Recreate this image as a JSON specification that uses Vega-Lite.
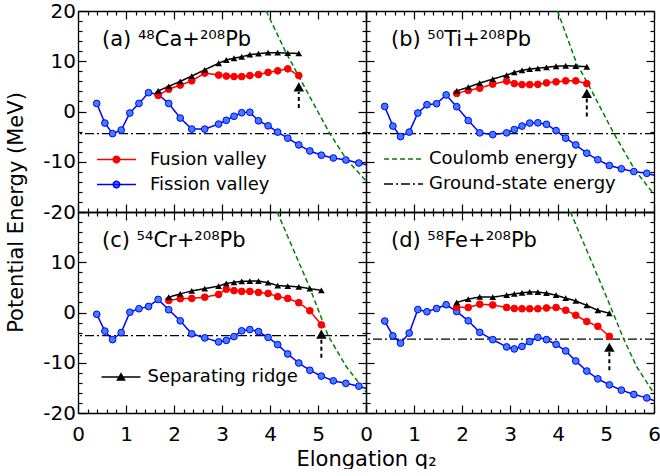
{
"$schema":"https://vega.github.io/schema/vega-lite/v6.json",
"background":"white",
"padding":{"left":5,"top":1,"right":0,"bottom":0},
"datasets":{
"gs":[{"p":"a","s":"Ground-state energy","E":-4.4},{"p":"b","s":"Ground-state energy","E":-4.4},{"p":"c","s":"Ground-state energy","E":-4.6},{"p":"d","s":"Ground-state energy","E":-5.3}],
"arrows":[{"p":"a","q":4.6,"y1":0.7,"y2":3.9,"yh":4.9},{"p":"b","q":4.6,"y1":-1.0,"y2":2.6,"yh":3.6},{"p":"c","q":5.07,"y1":-9.0,"y2":-5.2,"yh":-4.3},{"p":"d","q":5.07,"y1":-11.5,"y2":-7.8,"yh":-6.9}],
"labels":[{"p":"a","label":"(a) ⁴⁸Ca+²⁰⁸Pb"},{"p":"b","label":"(b) ⁵⁰Ti+²⁰⁸Pb"},{"p":"c","label":"(c) ⁵⁴Cr+²⁰⁸Pb"},{"p":"d","label":"(d) ⁵⁸Fe+²⁰⁸Pb"}],
"curves":[
{"p":"a","s":"Fission valley","q":0.39,"E":1.6},{"p":"a","s":"Fission valley","q":0.56,"E":-2.3},{"p":"a","s":"Fission valley","q":0.72,"E":-4.4},{"p":"a","s":"Fission valley","q":0.9,"E":-3.7},{"p":"a","s":"Fission valley","q":1.08,"E":-0.3},{"p":"a","s":"Fission valley","q":1.27,"E":1.6},{"p":"a","s":"Fission valley","q":1.47,"E":3.75},{"p":"a","s":"Fission valley","q":1.67,"E":3.4},{"p":"a","s":"Fission valley","q":1.89,"E":1.6},{"p":"a","s":"Fission valley","q":2.13,"E":-1.3},{"p":"a","s":"Fission valley","q":2.37,"E":-3.5},{"p":"a","s":"Fission valley","q":2.64,"E":-3.5},{"p":"a","s":"Fission valley","q":2.93,"E":-2.5},{"p":"a","s":"Fission valley","q":3.09,"E":-1.75},{"p":"a","s":"Fission valley","q":3.25,"E":-0.95},{"p":"a","s":"Fission valley","q":3.41,"E":-0.25},{"p":"a","s":"Fission valley","q":3.58,"E":-0.15},{"p":"a","s":"Fission valley","q":3.76,"E":-1.85},{"p":"a","s":"Fission valley","q":3.96,"E":-2.85},{"p":"a","s":"Fission valley","q":4.16,"E":-4.1},{"p":"a","s":"Fission valley","q":4.37,"E":-5.3},{"p":"a","s":"Fission valley","q":4.6,"E":-6.65},{"p":"a","s":"Fission valley","q":4.83,"E":-7.85},{"p":"a","s":"Fission valley","q":5.07,"E":-8.7},{"p":"a","s":"Fission valley","q":5.32,"E":-9.25},{"p":"a","s":"Fission valley","q":5.58,"E":-9.65},{"p":"a","s":"Fission valley","q":5.85,"E":-10.25},{"p":"a","s":"Fission valley","q":6.1,"E":-10.8},
{"p":"a","s":"Fusion valley","q":1.67,"E":3.2},{"p":"a","s":"Fusion valley","q":1.89,"E":4.45},{"p":"a","s":"Fusion valley","q":2.13,"E":5.25},{"p":"a","s":"Fusion valley","q":2.37,"E":6.1},{"p":"a","s":"Fusion valley","q":2.64,"E":7.65},{"p":"a","s":"Fusion valley","q":2.93,"E":7.25},{"p":"a","s":"Fusion valley","q":3.09,"E":7.05},{"p":"a","s":"Fusion valley","q":3.25,"E":6.95},{"p":"a","s":"Fusion valley","q":3.41,"E":6.95},{"p":"a","s":"Fusion valley","q":3.58,"E":7.15},{"p":"a","s":"Fusion valley","q":3.76,"E":7.35},{"p":"a","s":"Fusion valley","q":3.96,"E":7.8},{"p":"a","s":"Fusion valley","q":4.16,"E":8.1},{"p":"a","s":"Fusion valley","q":4.37,"E":8.5},{"p":"a","s":"Fusion valley","q":4.6,"E":7.15},
{"p":"a","s":"Separating ridge","q":1.67,"E":4.1},{"p":"a","s":"Separating ridge","q":1.89,"E":5.0},{"p":"a","s":"Separating ridge","q":2.13,"E":6.0},{"p":"a","s":"Separating ridge","q":2.37,"E":7.05},{"p":"a","s":"Separating ridge","q":2.64,"E":8.3},{"p":"a","s":"Separating ridge","q":2.93,"E":9.6},{"p":"a","s":"Separating ridge","q":3.09,"E":10.25},{"p":"a","s":"Separating ridge","q":3.25,"E":10.6},{"p":"a","s":"Separating ridge","q":3.41,"E":10.9},{"p":"a","s":"Separating ridge","q":3.58,"E":11.3},{"p":"a","s":"Separating ridge","q":3.76,"E":11.5},{"p":"a","s":"Separating ridge","q":3.96,"E":11.7},{"p":"a","s":"Separating ridge","q":4.16,"E":11.7},{"p":"a","s":"Separating ridge","q":4.37,"E":11.6},{"p":"a","s":"Separating ridge","q":4.6,"E":11.55},
{"p":"a","s":"Coulomb energy","q":3.92,"E":20},{"p":"a","s":"Coulomb energy","q":4.34,"E":11.6},{"p":"a","s":"Coulomb energy","q":4.69,"E":5.4},{"p":"a","s":"Coulomb energy","q":5.24,"E":-4.3},{"p":"a","s":"Coulomb energy","q":5.59,"E":-9.5},{"p":"a","s":"Coulomb energy","q":6.0,"E":-13.8},
{"p":"b","s":"Fission valley","q":0.39,"E":1.0},{"p":"b","s":"Fission valley","q":0.56,"E":-2.9},{"p":"b","s":"Fission valley","q":0.72,"E":-5.0},{"p":"b","s":"Fission valley","q":0.9,"E":-4.1},{"p":"b","s":"Fission valley","q":1.08,"E":-0.3},{"p":"b","s":"Fission valley","q":1.27,"E":1.35},{"p":"b","s":"Fission valley","q":1.47,"E":1.55},{"p":"b","s":"Fission valley","q":1.67,"E":3.3},{"p":"b","s":"Fission valley","q":1.89,"E":0.95},{"p":"b","s":"Fission valley","q":2.13,"E":-1.8},{"p":"b","s":"Fission valley","q":2.37,"E":-4.25},{"p":"b","s":"Fission valley","q":2.64,"E":-4.6},{"p":"b","s":"Fission valley","q":2.93,"E":-4.25},{"p":"b","s":"Fission valley","q":3.09,"E":-3.6},{"p":"b","s":"Fission valley","q":3.25,"E":-2.9},{"p":"b","s":"Fission valley","q":3.41,"E":-2.3},{"p":"b","s":"Fission valley","q":3.58,"E":-2.25},{"p":"b","s":"Fission valley","q":3.76,"E":-2.55},{"p":"b","s":"Fission valley","q":3.96,"E":-3.8},{"p":"b","s":"Fission valley","q":4.16,"E":-5.3},{"p":"b","s":"Fission valley","q":4.37,"E":-6.65},{"p":"b","s":"Fission valley","q":4.6,"E":-8.3},{"p":"b","s":"Fission valley","q":4.83,"E":-9.6},{"p":"b","s":"Fission valley","q":5.07,"E":-10.75},{"p":"b","s":"Fission valley","q":5.32,"E":-11.4},{"p":"b","s":"Fission valley","q":5.58,"E":-11.95},{"p":"b","s":"Fission valley","q":5.85,"E":-12.3},{"p":"b","s":"Fission valley","q":6.1,"E":-12.9},
{"p":"b","s":"Fusion valley","q":1.89,"E":3.6},{"p":"b","s":"Fusion valley","q":2.13,"E":4.2},{"p":"b","s":"Fusion valley","q":2.37,"E":4.65},{"p":"b","s":"Fusion valley","q":2.64,"E":5.45},{"p":"b","s":"Fusion valley","q":2.93,"E":6.05},{"p":"b","s":"Fusion valley","q":3.09,"E":5.55},{"p":"b","s":"Fusion valley","q":3.25,"E":5.35},{"p":"b","s":"Fusion valley","q":3.41,"E":5.35},{"p":"b","s":"Fusion valley","q":3.58,"E":5.4},{"p":"b","s":"Fusion valley","q":3.76,"E":5.7},{"p":"b","s":"Fusion valley","q":3.96,"E":5.9},{"p":"b","s":"Fusion valley","q":4.16,"E":6.1},{"p":"b","s":"Fusion valley","q":4.37,"E":6.1},{"p":"b","s":"Fusion valley","q":4.6,"E":5.55},
{"p":"b","s":"Separating ridge","q":1.89,"E":4.1},{"p":"b","s":"Separating ridge","q":2.13,"E":4.85},{"p":"b","s":"Separating ridge","q":2.37,"E":5.65},{"p":"b","s":"Separating ridge","q":2.64,"E":6.45},{"p":"b","s":"Separating ridge","q":2.93,"E":7.25},{"p":"b","s":"Separating ridge","q":3.09,"E":7.8},{"p":"b","s":"Separating ridge","q":3.25,"E":8.2},{"p":"b","s":"Separating ridge","q":3.41,"E":8.45},{"p":"b","s":"Separating ridge","q":3.58,"E":8.6},{"p":"b","s":"Separating ridge","q":3.76,"E":8.8},{"p":"b","s":"Separating ridge","q":3.96,"E":9.0},{"p":"b","s":"Separating ridge","q":4.16,"E":9.1},{"p":"b","s":"Separating ridge","q":4.37,"E":9.05},{"p":"b","s":"Separating ridge","q":4.6,"E":8.9},
{"p":"b","s":"Coulomb energy","q":3.99,"E":20},{"p":"b","s":"Coulomb energy","q":4.39,"E":9.5},{"p":"b","s":"Coulomb energy","q":4.62,"E":5.6},{"p":"b","s":"Coulomb energy","q":5.16,"E":-4.3},{"p":"b","s":"Coulomb energy","q":5.6,"E":-11.6},{"p":"b","s":"Coulomb energy","q":6.0,"E":-16.5},
{"p":"c","s":"Fission valley","q":0.39,"E":-0.35},{"p":"c","s":"Fission valley","q":0.56,"E":-3.7},{"p":"c","s":"Fission valley","q":0.72,"E":-5.4},{"p":"c","s":"Fission valley","q":0.9,"E":-4.0},{"p":"c","s":"Fission valley","q":1.08,"E":0.05},{"p":"c","s":"Fission valley","q":1.27,"E":0.75},{"p":"c","s":"Fission valley","q":1.47,"E":1.2},{"p":"c","s":"Fission valley","q":1.67,"E":2.6},{"p":"c","s":"Fission valley","q":1.89,"E":0.55},{"p":"c","s":"Fission valley","q":2.13,"E":-1.65},{"p":"c","s":"Fission valley","q":2.37,"E":-4.25},{"p":"c","s":"Fission valley","q":2.64,"E":-5.05},{"p":"c","s":"Fission valley","q":2.93,"E":-5.85},{"p":"c","s":"Fission valley","q":3.09,"E":-5.55},{"p":"c","s":"Fission valley","q":3.25,"E":-4.8},{"p":"c","s":"Fission valley","q":3.41,"E":-3.65},{"p":"c","s":"Fission valley","q":3.58,"E":-3.4},{"p":"c","s":"Fission valley","q":3.76,"E":-3.8},{"p":"c","s":"Fission valley","q":3.96,"E":-4.95},{"p":"c","s":"Fission valley","q":4.16,"E":-6.4},{"p":"c","s":"Fission valley","q":4.37,"E":-8.25},{"p":"c","s":"Fission valley","q":4.6,"E":-10.05},{"p":"c","s":"Fission valley","q":4.83,"E":-11.5},{"p":"c","s":"Fission valley","q":5.07,"E":-12.65},{"p":"c","s":"Fission valley","q":5.32,"E":-13.6},{"p":"c","s":"Fission valley","q":5.58,"E":-14.1},{"p":"c","s":"Fission valley","q":5.85,"E":-14.65},{"p":"c","s":"Fission valley","q":6.1,"E":-15.4},
{"p":"c","s":"Fusion valley","q":1.89,"E":2.4},{"p":"c","s":"Fusion valley","q":2.13,"E":2.75},{"p":"c","s":"Fusion valley","q":2.37,"E":2.8},{"p":"c","s":"Fusion valley","q":2.64,"E":3.05},{"p":"c","s":"Fusion valley","q":2.93,"E":3.6},{"p":"c","s":"Fusion valley","q":3.09,"E":4.65},{"p":"c","s":"Fusion valley","q":3.25,"E":4.35},{"p":"c","s":"Fusion valley","q":3.41,"E":4.2},{"p":"c","s":"Fusion valley","q":3.58,"E":4.2},{"p":"c","s":"Fusion valley","q":3.76,"E":4.0},{"p":"c","s":"Fusion valley","q":3.96,"E":3.8},{"p":"c","s":"Fusion valley","q":4.16,"E":3.15},{"p":"c","s":"Fusion valley","q":4.37,"E":2.8},{"p":"c","s":"Fusion valley","q":4.6,"E":1.95},{"p":"c","s":"Fusion valley","q":4.83,"E":0.35},{"p":"c","s":"Fusion valley","q":5.07,"E":-2.45},
{"p":"c","s":"Separating ridge","q":1.89,"E":3.05},{"p":"c","s":"Separating ridge","q":2.13,"E":3.7},{"p":"c","s":"Separating ridge","q":2.37,"E":4.3},{"p":"c","s":"Separating ridge","q":2.64,"E":4.75},{"p":"c","s":"Separating ridge","q":2.93,"E":5.25},{"p":"c","s":"Separating ridge","q":3.09,"E":5.8},{"p":"c","s":"Separating ridge","q":3.25,"E":6.0},{"p":"c","s":"Separating ridge","q":3.41,"E":6.2},{"p":"c","s":"Separating ridge","q":3.58,"E":6.25},{"p":"c","s":"Separating ridge","q":3.76,"E":6.25},{"p":"c","s":"Separating ridge","q":3.96,"E":5.95},{"p":"c","s":"Separating ridge","q":4.16,"E":5.35},{"p":"c","s":"Separating ridge","q":4.37,"E":5.25},{"p":"c","s":"Separating ridge","q":4.6,"E":5.1},{"p":"c","s":"Separating ridge","q":4.83,"E":4.75},{"p":"c","s":"Separating ridge","q":5.07,"E":4.4},
{"p":"c","s":"Coulomb energy","q":4.15,"E":20},{"p":"c","s":"Coulomb energy","q":4.83,"E":4.9},{"p":"c","s":"Coulomb energy","q":5.21,"E":-4.6},{"p":"c","s":"Coulomb energy","q":5.59,"E":-10.8},{"p":"c","s":"Coulomb energy","q":6.0,"E":-15.8},
{"p":"d","s":"Fission valley","q":0.39,"E":-1.7},{"p":"d","s":"Fission valley","q":0.56,"E":-4.65},{"p":"d","s":"Fission valley","q":0.72,"E":-6.1},{"p":"d","s":"Fission valley","q":0.9,"E":-4.1},{"p":"d","s":"Fission valley","q":1.08,"E":0.6},{"p":"d","s":"Fission valley","q":1.27,"E":0.15},{"p":"d","s":"Fission valley","q":1.47,"E":0.8},{"p":"d","s":"Fission valley","q":1.67,"E":1.55},{"p":"d","s":"Fission valley","q":1.89,"E":0.2},{"p":"d","s":"Fission valley","q":2.13,"E":-1.65},{"p":"d","s":"Fission valley","q":2.37,"E":-3.95},{"p":"d","s":"Fission valley","q":2.64,"E":-5.4},{"p":"d","s":"Fission valley","q":2.93,"E":-6.85},{"p":"d","s":"Fission valley","q":3.09,"E":-7.25},{"p":"d","s":"Fission valley","q":3.25,"E":-6.75},{"p":"d","s":"Fission valley","q":3.41,"E":-5.8},{"p":"d","s":"Fission valley","q":3.58,"E":-4.95},{"p":"d","s":"Fission valley","q":3.76,"E":-5.4},{"p":"d","s":"Fission valley","q":3.96,"E":-6.35},{"p":"d","s":"Fission valley","q":4.16,"E":-7.65},{"p":"d","s":"Fission valley","q":4.37,"E":-9.65},{"p":"d","s":"Fission valley","q":4.6,"E":-11.65},{"p":"d","s":"Fission valley","q":4.83,"E":-13.2},{"p":"d","s":"Fission valley","q":5.07,"E":-14.4},{"p":"d","s":"Fission valley","q":5.32,"E":-15.45},{"p":"d","s":"Fission valley","q":5.58,"E":-16.3},{"p":"d","s":"Fission valley","q":5.85,"E":-17.0},{"p":"d","s":"Fission valley","q":6.1,"E":-17.9},
{"p":"d","s":"Fusion valley","q":1.89,"E":1.05},{"p":"d","s":"Fusion valley","q":2.13,"E":1.0},{"p":"d","s":"Fusion valley","q":2.37,"E":1.65},{"p":"d","s":"Fusion valley","q":2.64,"E":1.5},{"p":"d","s":"Fusion valley","q":2.93,"E":1.0},{"p":"d","s":"Fusion valley","q":3.09,"E":0.8},{"p":"d","s":"Fusion valley","q":3.25,"E":0.75},{"p":"d","s":"Fusion valley","q":3.41,"E":0.75},{"p":"d","s":"Fusion valley","q":3.58,"E":0.75},{"p":"d","s":"Fusion valley","q":3.76,"E":0.9},{"p":"d","s":"Fusion valley","q":3.96,"E":1.0},{"p":"d","s":"Fusion valley","q":4.16,"E":0.45},{"p":"d","s":"Fusion valley","q":4.37,"E":-0.55},{"p":"d","s":"Fusion valley","q":4.6,"E":-1.8},{"p":"d","s":"Fusion valley","q":4.83,"E":-2.75},{"p":"d","s":"Fusion valley","q":5.07,"E":-4.75},
{"p":"d","s":"Separating ridge","q":1.89,"E":2.0},{"p":"d","s":"Separating ridge","q":2.13,"E":2.65},{"p":"d","s":"Separating ridge","q":2.37,"E":3.1},{"p":"d","s":"Separating ridge","q":2.64,"E":3.05},{"p":"d","s":"Separating ridge","q":2.93,"E":3.45},{"p":"d","s":"Separating ridge","q":3.09,"E":3.7},{"p":"d","s":"Separating ridge","q":3.25,"E":3.9},{"p":"d","s":"Separating ridge","q":3.41,"E":4.1},{"p":"d","s":"Separating ridge","q":3.58,"E":4.05},{"p":"d","s":"Separating ridge","q":3.76,"E":3.85},{"p":"d","s":"Separating ridge","q":3.96,"E":3.45},{"p":"d","s":"Separating ridge","q":4.16,"E":2.85},{"p":"d","s":"Separating ridge","q":4.37,"E":2.3},{"p":"d","s":"Separating ridge","q":4.6,"E":1.4},{"p":"d","s":"Separating ridge","q":4.83,"E":0.45},{"p":"d","s":"Separating ridge","q":5.07,"E":-0.15},
{"p":"d","s":"Coulomb energy","q":4.26,"E":20},{"p":"d","s":"Coulomb energy","q":5.05,"E":2.2},{"p":"d","s":"Coulomb energy","q":5.36,"E":-5.1},{"p":"d","s":"Coulomb energy","q":5.64,"E":-10.8},{"p":"d","s":"Coulomb energy","q":6.0,"E":-16.1}
]},
"columns":2,"spacing":0,"bounds":"flush",
"resolve":{"scale":{"x":"independent","y":"independent","stroke":"independent","fill":"independent","strokeDash":"independent"},"axis":{"x":"independent","y":"independent"},"legend":{"stroke":"independent","fill":"independent","strokeDash":"independent"}},
"concat":[
{"width":288,"height":201,
"layer":[
{"layer":[
{"data":{"name":"gs"},"transform":[{"filter":"datum.p == 'a'"}],"mark":{"type":"rule","strokeWidth":1.3},
"encoding":{"y":{"field":"E","type":"quantitative","scale":{"domain":[-20,20],"nice":false}},
"stroke":{"field":"s","type":"nominal","scale":{"domain":["Fusion valley","Fission valley","Separating ridge","Coulomb energy","Ground-state energy"],"range":["#ff0000","#0000ff","#000000","#008000","#000000"]},"legend":{"orient":"none","legendX":23,"legendY":133,"values":["Fusion valley","Fission valley"],"symbolType":"M-1.32,0H-0.22A0.22,0.22,0,1,1,0.22,0H1.32M0.22,0A0.22,0.22,0,1,1,-0.22,0Z","symbolSize":870,"labelOffset":18,"title":null}},
"strokeDash":{"field":"s","type":"nominal","scale":{"domain":["Fusion valley","Fission valley","Separating ridge","Coulomb energy","Ground-state energy"],"range":[[1,0],[1,0],[1,0],[5,3],[9,3,2,3]]}}}},
{"data":{"name":"curves"},"transform":[{"filter":"datum.p == 'a'"}],"mark":{"type":"line","strokeWidth":1.5,"clip":true},
"encoding":{"x":{"field":"q","type":"quantitative","scale":{"domain":[0,6],"nice":false},"axis":{"orient":"bottom","values":[0,1,2,3,4,5,6],"tickSize":-8,"labels":false,"title":null}},
"y":{"field":"E","type":"quantitative","scale":{"domain":[-20,20],"nice":false},"axis":{"orient":"left","values":[-20,-10,0,10,20],"tickSize":-8,"labelPadding":10.5,"labelExpr":"'' + datum.value","title":"Potential Energy (MeV)","titleY":201,"titlePadding":16}},
"stroke":{"field":"s","type":"nominal","scale":{"domain":["Fusion valley","Fission valley","Separating ridge","Coulomb energy","Ground-state energy"],"range":["#ff0000","#0000ff","#000000","#008000","#000000"]}},
"strokeDash":{"field":"s","type":"nominal","scale":{"domain":["Fusion valley","Fission valley","Separating ridge","Coulomb energy","Ground-state energy"],"range":[[1,0],[1,0],[1,0],[5,3],[9,3,2,3]]}}}},
{"data":{"name":"curves"},"transform":[{"filter":"datum.p == 'a' && (datum.s == 'Fusion valley' || datum.s == 'Fission valley')"}],"mark":{"type":"point","filled":true,"size":45,"strokeWidth":1,"opacity":1,"clip":true},
"encoding":{"x":{"field":"q","type":"quantitative"},"y":{"field":"E","type":"quantitative"},
"stroke":{"field":"s","type":"nominal","scale":{"domain":["Fusion valley","Fission valley","Separating ridge","Coulomb energy","Ground-state energy"],"range":["#ff0000","#0000ff","#000000","#008000","#000000"]}},
"fill":{"field":"s","type":"nominal","scale":{"domain":["Fusion valley","Fission valley","Separating ridge","Coulomb energy","Ground-state energy"],"range":["#ff0000","#3f7fff","#000000","transparent","transparent"]}}}},
{"data":{"name":"labels"},"transform":[{"filter":"datum.p == 'a'"}],"mark":{"type":"text","align":"left","baseline":"middle","fontSize":21,"font":"DejaVu Sans","color":"black"},
"encoding":{"x":{"datum":0.5,"type":"quantitative"},"y":{"datum":14.3,"type":"quantitative"},"text":{"field":"label"}}}
]},
{"data":{"name":"arrows"},"transform":[{"filter":"datum.p == 'a'"}],"mark":{"type":"rule","color":"black","strokeWidth":2,"strokeDash":[4,3]},
"encoding":{"x":{"field":"q","type":"quantitative","scale":{"domain":[0,6],"nice":false},"axis":{"orient":"bottom","values":[0.2,0.4,0.6,0.8,1.2,1.4,1.6,1.8,2.2,2.4,2.6,2.8,3.2,3.4,3.6,3.8,4.2,4.4,4.6,4.8,5.2,5.4,5.6,5.8],"tickSize":-4,"labels":false,"domain":false,"title":null}},
"y":{"field":"y1","type":"quantitative","scale":{"domain":[-20,20],"nice":false},"axis":{"orient":"left","values":[-18,-16,-14,-12,-8,-6,-4,-2,2,4,6,8,12,14,16,18],"tickSize":-4,"labels":false,"domain":false,"title":null}},"y2":{"field":"y2"}}},
{"data":{"name":"arrows"},"transform":[{"filter":"datum.p == 'a'"}],"mark":{"type":"point","shape":"triangle-up","filled":true,"color":"black","size":110,"opacity":1},
"encoding":{"x":{"field":"q","type":"quantitative","scale":{"domain":[0,6],"nice":false},"axis":{"orient":"top","values":[0.2,0.4,0.6,0.8,1.2,1.4,1.6,1.8,2.2,2.4,2.6,2.8,3.2,3.4,3.6,3.8,4.2,4.4,4.6,4.8,5.2,5.4,5.6,5.8],"tickSize":-4,"labels":false,"domain":false,"title":null}},
"y":{"field":"yh","type":"quantitative","scale":{"domain":[-20,20],"nice":false},"axis":{"orient":"right","values":[-18,-16,-14,-12,-8,-6,-4,-2,2,4,6,8,12,14,16,18],"tickSize":-4,"labels":false,"domain":false,"title":null}}}},
{"data":{"name":"curves"},"transform":[{"filter":"datum.p == 'a' && datum.s == 'Separating ridge'"}],"mark":{"type":"point","shape":"triangle-up","filled":true,"color":"black","size":45,"opacity":1,"clip":true},
"encoding":{"x":{"field":"q","type":"quantitative","scale":{"domain":[0,6],"nice":false},"axis":{"orient":"top","values":[0,1,2,3,4,5,6],"tickSize":-8,"labels":false,"title":null}},
"y":{"field":"E","type":"quantitative","scale":{"domain":[-20,20],"nice":false},"axis":{"orient":"right","values":[-20,-10,0,10,20],"tickSize":-8,"labels":false,"title":null}}}}
],
"resolve":{"axis":{"x":"independent","y":"independent"}}},
{"width":288,"height":201,
"layer":[
{"layer":[
{"data":{"name":"gs"},"transform":[{"filter":"datum.p == 'b'"}],"mark":{"type":"rule","strokeWidth":1.3},
"encoding":{"y":{"field":"E","type":"quantitative","scale":{"domain":[-20,20],"nice":false}},
"stroke":{"field":"s","type":"nominal","scale":{"domain":["Fusion valley","Fission valley","Separating ridge","Coulomb energy","Ground-state energy"],"range":["#ff0000","#0000ff","#000000","#008000","#000000"]},"legend":{"orient":"none","legendX":22,"legendY":132.5,"values":["Coulomb energy","Ground-state energy"],"symbolType":"M-1.32,0H1.32","symbolSize":870,"labelOffset":10,"title":null}},
"strokeDash":{"field":"s","type":"nominal","scale":{"domain":["Fusion valley","Fission valley","Separating ridge","Coulomb energy","Ground-state energy"],"range":[[1,0],[1,0],[1,0],[5,3],[9,3,2,3]]}}}},
{"data":{"name":"curves"},"transform":[{"filter":"datum.p == 'b'"}],"mark":{"type":"line","strokeWidth":1.5,"clip":true},
"encoding":{"x":{"field":"q","type":"quantitative","scale":{"domain":[0,6],"nice":false},"axis":{"orient":"bottom","values":[0,1,2,3,4,5,6],"tickSize":-8,"labels":false,"title":null}},
"y":{"field":"E","type":"quantitative","scale":{"domain":[-20,20],"nice":false},"axis":{"orient":"left","values":[-20,-10,0,10,20],"tickSize":-8,"labels":false,"title":null}},
"stroke":{"field":"s","type":"nominal","scale":{"domain":["Fusion valley","Fission valley","Separating ridge","Coulomb energy","Ground-state energy"],"range":["#ff0000","#0000ff","#000000","#008000","#000000"]}},
"strokeDash":{"field":"s","type":"nominal","scale":{"domain":["Fusion valley","Fission valley","Separating ridge","Coulomb energy","Ground-state energy"],"range":[[1,0],[1,0],[1,0],[5,3],[9,3,2,3]]}}}},
{"data":{"name":"curves"},"transform":[{"filter":"datum.p == 'b' && (datum.s == 'Fusion valley' || datum.s == 'Fission valley')"}],"mark":{"type":"point","filled":true,"size":45,"strokeWidth":1,"opacity":1,"clip":true},
"encoding":{"x":{"field":"q","type":"quantitative"},"y":{"field":"E","type":"quantitative"},
"stroke":{"field":"s","type":"nominal","scale":{"domain":["Fusion valley","Fission valley","Separating ridge","Coulomb energy","Ground-state energy"],"range":["#ff0000","#0000ff","#000000","#008000","#000000"]}},
"fill":{"field":"s","type":"nominal","scale":{"domain":["Fusion valley","Fission valley","Separating ridge","Coulomb energy","Ground-state energy"],"range":["#ff0000","#3f7fff","#000000","transparent","transparent"]}}}},
{"data":{"name":"labels"},"transform":[{"filter":"datum.p == 'b'"}],"mark":{"type":"text","align":"left","baseline":"middle","fontSize":21,"font":"DejaVu Sans","color":"black"},
"encoding":{"x":{"datum":0.52,"type":"quantitative"},"y":{"datum":14.3,"type":"quantitative"},"text":{"field":"label"}}}
]},
{"data":{"name":"arrows"},"transform":[{"filter":"datum.p == 'b'"}],"mark":{"type":"rule","color":"black","strokeWidth":2,"strokeDash":[4,3]},
"encoding":{"x":{"field":"q","type":"quantitative","scale":{"domain":[0,6],"nice":false},"axis":{"orient":"bottom","values":[0.2,0.4,0.6,0.8,1.2,1.4,1.6,1.8,2.2,2.4,2.6,2.8,3.2,3.4,3.6,3.8,4.2,4.4,4.6,4.8,5.2,5.4,5.6,5.8],"tickSize":-4,"labels":false,"domain":false,"title":null}},
"y":{"field":"y1","type":"quantitative","scale":{"domain":[-20,20],"nice":false},"axis":{"orient":"left","values":[-18,-16,-14,-12,-8,-6,-4,-2,2,4,6,8,12,14,16,18],"tickSize":-4,"labels":false,"domain":false,"title":null}},"y2":{"field":"y2"}}},
{"data":{"name":"arrows"},"transform":[{"filter":"datum.p == 'b'"}],"mark":{"type":"point","shape":"triangle-up","filled":true,"color":"black","size":110,"opacity":1},
"encoding":{"x":{"field":"q","type":"quantitative","scale":{"domain":[0,6],"nice":false},"axis":{"orient":"top","values":[0.2,0.4,0.6,0.8,1.2,1.4,1.6,1.8,2.2,2.4,2.6,2.8,3.2,3.4,3.6,3.8,4.2,4.4,4.6,4.8,5.2,5.4,5.6,5.8],"tickSize":-4,"labels":false,"domain":false,"title":null}},
"y":{"field":"yh","type":"quantitative","scale":{"domain":[-20,20],"nice":false},"axis":{"orient":"right","values":[-18,-16,-14,-12,-8,-6,-4,-2,2,4,6,8,12,14,16,18],"tickSize":-4,"labels":false,"domain":false,"title":null}}}},
{"data":{"name":"curves"},"transform":[{"filter":"datum.p == 'b' && datum.s == 'Separating ridge'"}],"mark":{"type":"point","shape":"triangle-up","filled":true,"color":"black","size":45,"opacity":1,"clip":true},
"encoding":{"x":{"field":"q","type":"quantitative","scale":{"domain":[0,6],"nice":false},"axis":{"orient":"top","values":[0,1,2,3,4,5,6],"tickSize":-8,"labels":false,"title":null}},
"y":{"field":"E","type":"quantitative","scale":{"domain":[-20,20],"nice":false},"axis":{"orient":"right","values":[-20,-10,0,10,20],"tickSize":-8,"labels":false,"title":null}}}}
],
"resolve":{"axis":{"x":"independent","y":"independent"}}},
{"width":288,"height":201,
"layer":[
{"layer":[
{"data":{"name":"gs"},"transform":[{"filter":"datum.p == 'c'"}],"mark":{"type":"rule","strokeWidth":1.3},
"encoding":{"y":{"field":"E","type":"quantitative","scale":{"domain":[-20,20],"nice":false}},
"stroke":{"field":"s","type":"nominal","scale":{"domain":["Fusion valley","Fission valley","Separating ridge","Coulomb energy","Ground-state energy"],"range":["#ff0000","#0000ff","#000000","#008000","#000000"]},"legend":{"orient":"none","legendX":27.5,"legendY":149.5,"values":["Separating ridge"],"symbolType":"M-1.32,0H1.32M-0.24,0.2L0,-0.22L0.24,0.2Z","symbolSize":870,"labelOffset":11,"title":null}},
"strokeDash":{"field":"s","type":"nominal","scale":{"domain":["Fusion valley","Fission valley","Separating ridge","Coulomb energy","Ground-state energy"],"range":[[1,0],[1,0],[1,0],[5,3],[9,3,2,3]]}}}},
{"data":{"name":"curves"},"transform":[{"filter":"datum.p == 'c'"}],"mark":{"type":"line","strokeWidth":1.5,"clip":true},
"encoding":{"x":{"field":"q","type":"quantitative","scale":{"domain":[0,6],"nice":false},"axis":{"orient":"bottom","values":[0,1,2,3,4,5,6],"tickSize":-8,"labelPadding":19,"labelExpr":"datum.value < 6 ? '' + datum.value : ''","title":"Elongation q₂","titleX":288,"titlePadding":4}},
"y":{"field":"E","type":"quantitative","scale":{"domain":[-20,20],"nice":false},"axis":{"orient":"left","values":[-20,-10,0,10,20],"tickSize":-8,"labelPadding":10.5,"labelExpr":"datum.value < 20 ? '' + datum.value : ''","title":null}},
"stroke":{"field":"s","type":"nominal","scale":{"domain":["Fusion valley","Fission valley","Separating ridge","Coulomb energy","Ground-state energy"],"range":["#ff0000","#0000ff","#000000","#008000","#000000"]}},
"strokeDash":{"field":"s","type":"nominal","scale":{"domain":["Fusion valley","Fission valley","Separating ridge","Coulomb energy","Ground-state energy"],"range":[[1,0],[1,0],[1,0],[5,3],[9,3,2,3]]}}}},
{"data":{"name":"curves"},"transform":[{"filter":"datum.p == 'c' && (datum.s == 'Fusion valley' || datum.s == 'Fission valley')"}],"mark":{"type":"point","filled":true,"size":45,"strokeWidth":1,"opacity":1,"clip":true},
"encoding":{"x":{"field":"q","type":"quantitative"},"y":{"field":"E","type":"quantitative"},
"stroke":{"field":"s","type":"nominal","scale":{"domain":["Fusion valley","Fission valley","Separating ridge","Coulomb energy","Ground-state energy"],"range":["#ff0000","#0000ff","#000000","#008000","#000000"]}},
"fill":{"field":"s","type":"nominal","scale":{"domain":["Fusion valley","Fission valley","Separating ridge","Coulomb energy","Ground-state energy"],"range":["#ff0000","#3f7fff","#000000","transparent","transparent"]}}}},
{"data":{"name":"labels"},"transform":[{"filter":"datum.p == 'c'"}],"mark":{"type":"text","align":"left","baseline":"middle","fontSize":21,"font":"DejaVu Sans","color":"black"},
"encoding":{"x":{"datum":0.5,"type":"quantitative"},"y":{"datum":14.2,"type":"quantitative"},"text":{"field":"label"}}}
]},
{"data":{"name":"arrows"},"transform":[{"filter":"datum.p == 'c'"}],"mark":{"type":"rule","color":"black","strokeWidth":2,"strokeDash":[4,3]},
"encoding":{"x":{"field":"q","type":"quantitative","scale":{"domain":[0,6],"nice":false},"axis":{"orient":"bottom","values":[0.2,0.4,0.6,0.8,1.2,1.4,1.6,1.8,2.2,2.4,2.6,2.8,3.2,3.4,3.6,3.8,4.2,4.4,4.6,4.8,5.2,5.4,5.6,5.8],"tickSize":-4,"labels":false,"domain":false,"title":null}},
"y":{"field":"y1","type":"quantitative","scale":{"domain":[-20,20],"nice":false},"axis":{"orient":"left","values":[-18,-16,-14,-12,-8,-6,-4,-2,2,4,6,8,12,14,16,18],"tickSize":-4,"labels":false,"domain":false,"title":null}},"y2":{"field":"y2"}}},
{"data":{"name":"arrows"},"transform":[{"filter":"datum.p == 'c'"}],"mark":{"type":"point","shape":"triangle-up","filled":true,"color":"black","size":110,"opacity":1},
"encoding":{"x":{"field":"q","type":"quantitative","scale":{"domain":[0,6],"nice":false},"axis":{"orient":"top","values":[0.2,0.4,0.6,0.8,1.2,1.4,1.6,1.8,2.2,2.4,2.6,2.8,3.2,3.4,3.6,3.8,4.2,4.4,4.6,4.8,5.2,5.4,5.6,5.8],"tickSize":-4,"labels":false,"domain":false,"title":null}},
"y":{"field":"yh","type":"quantitative","scale":{"domain":[-20,20],"nice":false},"axis":{"orient":"right","values":[-18,-16,-14,-12,-8,-6,-4,-2,2,4,6,8,12,14,16,18],"tickSize":-4,"labels":false,"domain":false,"title":null}}}},
{"data":{"name":"curves"},"transform":[{"filter":"datum.p == 'c' && datum.s == 'Separating ridge'"}],"mark":{"type":"point","shape":"triangle-up","filled":true,"color":"black","size":45,"opacity":1,"clip":true},
"encoding":{"x":{"field":"q","type":"quantitative","scale":{"domain":[0,6],"nice":false},"axis":{"orient":"top","values":[0,1,2,3,4,5,6],"tickSize":-8,"labels":false,"title":null}},
"y":{"field":"E","type":"quantitative","scale":{"domain":[-20,20],"nice":false},"axis":{"orient":"right","values":[-20,-10,0,10,20],"tickSize":-8,"labels":false,"title":null}}}}
],
"resolve":{"axis":{"x":"independent","y":"independent"}}},
{"width":288,"height":201,
"layer":[
{"layer":[
{"data":{"name":"gs"},"transform":[{"filter":"datum.p == 'd'"}],"mark":{"type":"rule","strokeWidth":1.3},
"encoding":{"y":{"field":"E","type":"quantitative","scale":{"domain":[-20,20],"nice":false}},
"stroke":{"field":"s","type":"nominal","scale":{"domain":["Fusion valley","Fission valley","Separating ridge","Coulomb energy","Ground-state energy"],"range":["#ff0000","#0000ff","#000000","#008000","#000000"]},"legend":null},
"strokeDash":{"field":"s","type":"nominal","scale":{"domain":["Fusion valley","Fission valley","Separating ridge","Coulomb energy","Ground-state energy"],"range":[[1,0],[1,0],[1,0],[5,3],[9,3,2,3]]},"legend":null}}},
{"data":{"name":"curves"},"transform":[{"filter":"datum.p == 'd'"}],"mark":{"type":"line","strokeWidth":1.5,"clip":true},
"encoding":{"x":{"field":"q","type":"quantitative","scale":{"domain":[0,6],"nice":false},"axis":{"orient":"bottom","values":[0,1,2,3,4,5,6],"tickSize":-8,"labelPadding":19,"labelExpr":"'' + datum.value","title":null}},
"y":{"field":"E","type":"quantitative","scale":{"domain":[-20,20],"nice":false},"axis":{"orient":"left","values":[-20,-10,0,10,20],"tickSize":-8,"labels":false,"title":null}},
"stroke":{"field":"s","type":"nominal","scale":{"domain":["Fusion valley","Fission valley","Separating ridge","Coulomb energy","Ground-state energy"],"range":["#ff0000","#0000ff","#000000","#008000","#000000"]},"legend":null},
"strokeDash":{"field":"s","type":"nominal","scale":{"domain":["Fusion valley","Fission valley","Separating ridge","Coulomb energy","Ground-state energy"],"range":[[1,0],[1,0],[1,0],[5,3],[9,3,2,3]]},"legend":null}}},
{"data":{"name":"curves"},"transform":[{"filter":"datum.p == 'd' && (datum.s == 'Fusion valley' || datum.s == 'Fission valley')"}],"mark":{"type":"point","filled":true,"size":45,"strokeWidth":1,"opacity":1,"clip":true},
"encoding":{"x":{"field":"q","type":"quantitative"},"y":{"field":"E","type":"quantitative"},
"stroke":{"field":"s","type":"nominal","scale":{"domain":["Fusion valley","Fission valley","Separating ridge","Coulomb energy","Ground-state energy"],"range":["#ff0000","#0000ff","#000000","#008000","#000000"]},"legend":null},
"fill":{"field":"s","type":"nominal","scale":{"domain":["Fusion valley","Fission valley","Separating ridge","Coulomb energy","Ground-state energy"],"range":["#ff0000","#3f7fff","#000000","transparent","transparent"]},"legend":null}}},
{"data":{"name":"labels"},"transform":[{"filter":"datum.p == 'd'"}],"mark":{"type":"text","align":"left","baseline":"middle","fontSize":21,"font":"DejaVu Sans","color":"black"},
"encoding":{"x":{"datum":0.52,"type":"quantitative"},"y":{"datum":14.2,"type":"quantitative"},"text":{"field":"label"}}}
]},
{"data":{"name":"arrows"},"transform":[{"filter":"datum.p == 'd'"}],"mark":{"type":"rule","color":"black","strokeWidth":2,"strokeDash":[4,3]},
"encoding":{"x":{"field":"q","type":"quantitative","scale":{"domain":[0,6],"nice":false},"axis":{"orient":"bottom","values":[0.2,0.4,0.6,0.8,1.2,1.4,1.6,1.8,2.2,2.4,2.6,2.8,3.2,3.4,3.6,3.8,4.2,4.4,4.6,4.8,5.2,5.4,5.6,5.8],"tickSize":-4,"labels":false,"domain":false,"title":null}},
"y":{"field":"y1","type":"quantitative","scale":{"domain":[-20,20],"nice":false},"axis":{"orient":"left","values":[-18,-16,-14,-12,-8,-6,-4,-2,2,4,6,8,12,14,16,18],"tickSize":-4,"labels":false,"domain":false,"title":null}},"y2":{"field":"y2"}}},
{"data":{"name":"arrows"},"transform":[{"filter":"datum.p == 'd'"}],"mark":{"type":"point","shape":"triangle-up","filled":true,"color":"black","size":110,"opacity":1},
"encoding":{"x":{"field":"q","type":"quantitative","scale":{"domain":[0,6],"nice":false},"axis":{"orient":"top","values":[0.2,0.4,0.6,0.8,1.2,1.4,1.6,1.8,2.2,2.4,2.6,2.8,3.2,3.4,3.6,3.8,4.2,4.4,4.6,4.8,5.2,5.4,5.6,5.8],"tickSize":-4,"labels":false,"domain":false,"title":null}},
"y":{"field":"yh","type":"quantitative","scale":{"domain":[-20,20],"nice":false},"axis":{"orient":"right","values":[-18,-16,-14,-12,-8,-6,-4,-2,2,4,6,8,12,14,16,18],"tickSize":-4,"labels":false,"domain":false,"title":null}}}},
{"data":{"name":"curves"},"transform":[{"filter":"datum.p == 'd' && datum.s == 'Separating ridge'"}],"mark":{"type":"point","shape":"triangle-up","filled":true,"color":"black","size":45,"opacity":1,"clip":true},
"encoding":{"x":{"field":"q","type":"quantitative","scale":{"domain":[0,6],"nice":false},"axis":{"orient":"top","values":[0,1,2,3,4,5,6],"tickSize":-8,"labels":false,"title":null}},
"y":{"field":"E","type":"quantitative","scale":{"domain":[-20,20],"nice":false},"axis":{"orient":"right","values":[-20,-10,0,10,20],"tickSize":-8,"labels":false,"title":null}}}}
],
"resolve":{"axis":{"x":"independent","y":"independent"}}}
],
"config":{
"view":{"stroke":null},
"font":"DejaVu Sans",
"axis":{"grid":false,"domainColor":"black","domainWidth":1.3,"tickColor":"black","tickWidth":1.2,"labelFont":"DejaVu Sans","labelFontSize":20,"labelColor":"black","titleFont":"DejaVu Sans","titleFontSize":21,"titleFontWeight":"normal","titleColor":"black","labelFlush":false,"labelOverlap":false,"labelBound":false},
"legend":{"labelFont":"DejaVu Sans","labelFontSize":18,"labelColor":"black","labelLimit":0,"symbolStrokeWidth":1.5,"symbolFillColor":"transparent","padding":0,"labelOffset":14,"rowPadding":0}
}
}
